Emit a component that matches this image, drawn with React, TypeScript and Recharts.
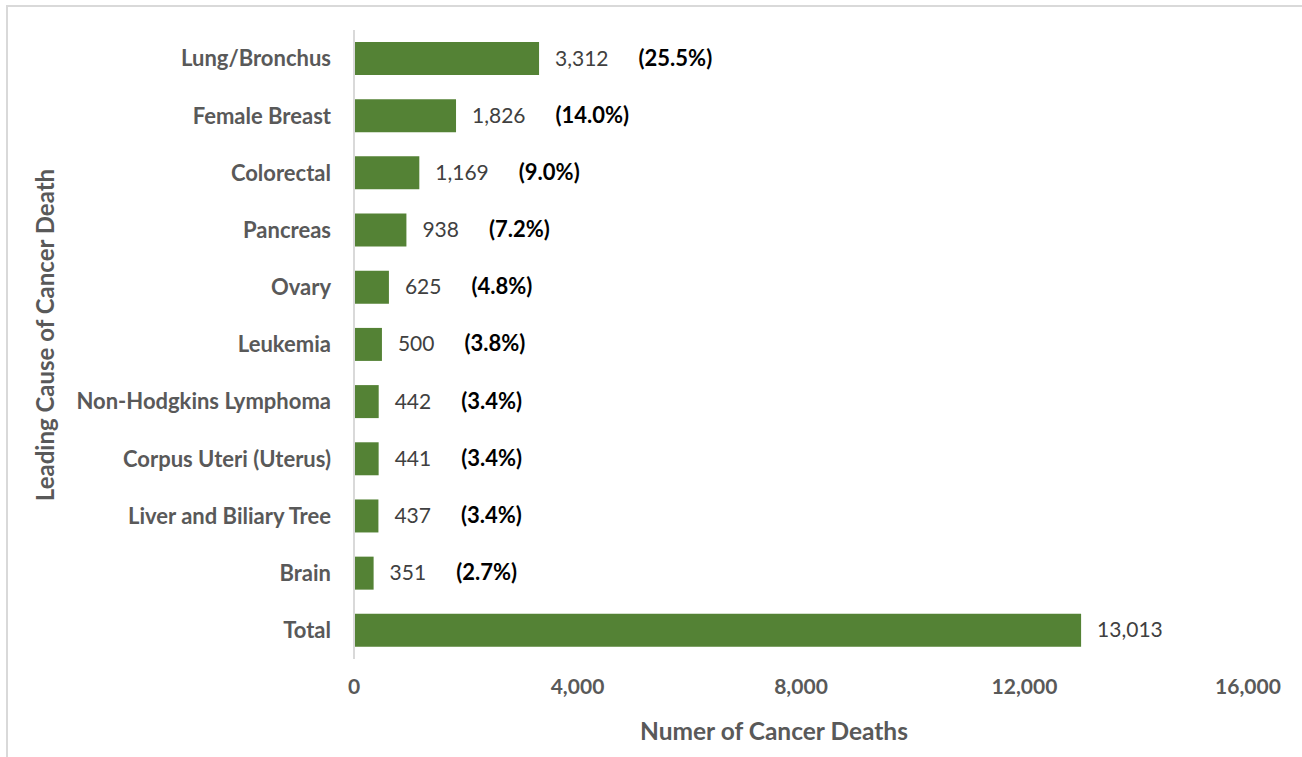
import { BarChart, Bar, XAxis, YAxis, LabelList } from "recharts";

const categories = [
  "Lung/Bronchus",
  "Female Breast",
  "Colorectal",
  "Pancreas",
  "Ovary",
  "Leukemia",
  "Non-Hodgkins Lymphoma",
  "Corpus Uteri (Uterus)",
  "Liver and Biliary Tree",
  "Brain",
  "Total"
];
const deaths = [3312, 1826, 1169, 938, 625, 500, 442, 441, 437, 351, 13013];
const shares = ["25.5%", "14.0%", "9.0%", "7.2%", "4.8%", "3.8%", "3.4%", "3.4%", "3.4%", "2.7%", ""];
const xTicks = [0, 4000, 8000, 12000, 16000];

const FONT = "Lato, 'Noto Sans', sans-serif";
const GREEN = "#548235";

const rows = categories.map((name, i) => ({
  name,
  deaths: deaths[i],
  share: shares[i]
}));

// count label plus the bold share in brackets after it
function BarValue(props: any) {
  const { x, y, width, height, value } = props;
  let idx = props.index;
  if (idx == null || !rows[idx]) idx = deaths.indexOf(Number(value));
  const row = rows[idx];
  if (!row) return null;
  return (
    <text x={x + width + 16} y={y + height / 2 + 7} fontFamily={FONT} fontSize={21}>
      <tspan fill="#404040">{row.deaths.toLocaleString("en-US")}</tspan>
      {row.share ? (
        <tspan dx={30} fill="#000000" fontWeight={700} fontSize={22}>
          ({row.share})
        </tspan>
      ) : null}
    </text>
  );
}

function XTitle(props: any) {
  const { viewBox } = props;
  return (
    <text
      x={viewBox.x + viewBox.width / 2 - 27}
      y={viewBox.y + 81}
      textAnchor="middle"
      fontFamily={FONT}
      fontSize={24.5}
      fontWeight={700}
      fill="#595959"
    >
      Numer of Cancer Deaths
    </text>
  );
}

function YTitle() {
  const cx = 44;
  const cy = 335;
  return (
    <text
      x={cx}
      y={cy}
      transform={`rotate(-90, ${cx}, ${cy})`}
      textAnchor="middle"
      dominantBaseline="central"
      fontFamily={FONT}
      fontSize={24}
      fontWeight={700}
      fill="#595959"
    >
      Leading Cause of Cancer Death
    </text>
  );
}

export default function App() {
  const tickStyle = { fill: "#595959", fontSize: 21, fontWeight: 700, fontFamily: FONT };

  return (
    <div
      style={{
        position: "fixed",
        left: 0,
        top: 0,
        width: 1302,
        height: 757,
        background: "#ffffff",
        overflow: "hidden"
      }}
    >
      {/* chart frame, only its top and left edges fall inside the view */}
      <div
        style={{
          position: "absolute",
          left: 6,
          top: 5,
          width: 1400,
          height: 900,
          borderTop: "2px solid #d9d9d9",
          borderLeft: "2px solid #d9d9d9"
        }}
      />
      <BarChart
        width={1302}
        height={757}
        data={rows}
        layout="vertical"
        margin={{ top: 30, right: 54, left: 0, bottom: 13 }}
        barCategoryGap="21%"
        style={{ position: "absolute", left: 0, top: 0 }}
      >
        <XAxis
          type="number"
          domain={[0, 16000]}
          ticks={xTicks}
          tickFormatter={(v: number) => v.toLocaleString("en-US")}
          axisLine={false}
          tickLine={false}
          tick={tickStyle}
          tickMargin={14}
          height={85}
          label={<XTitle />}
        />
        <YAxis
          type="category"
          dataKey="name"
          width={354}
          axisLine={{ stroke: "#d9d9d9", strokeWidth: 2 }}
          tickLine={false}
          tick={{ ...tickStyle, fontSize: 22 }}
          tickMargin={17}
          interval={0}
        />
        <Bar dataKey="deaths" fill={GREEN} isAnimationActive={false}>
          <LabelList dataKey="deaths" content={<BarValue />} />
        </Bar>
        <YTitle />
      </BarChart>
    </div>
  );
}
